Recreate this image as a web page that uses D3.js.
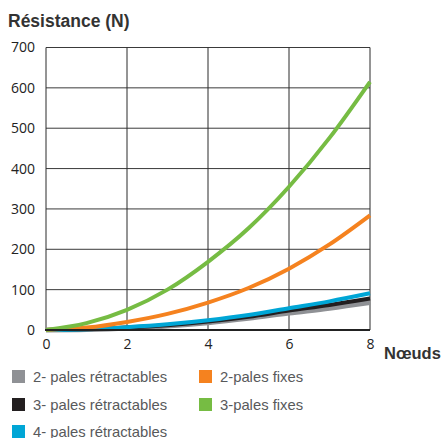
<!DOCTYPE html>
<html>
<head>
<meta charset="utf-8">
<script src="https://cdn.jsdelivr.net/npm/d3@7"></script>
<style>
  body { margin: 0; background: #fff; }
  svg text { font-family: "Liberation Sans", Arial, sans-serif; }
  .tick text { font-family: "Open Sans", sans-serif; font-size: 14px; fill: #222; }
</style>
</head>
<body>
<svg id="chart" width="446" height="438"></svg>
<script>
(() => {
    // knots (x) and resistance values (N)
    const knots = [0, 1, 2, 3, 4, 5, 6, 7, 8];
    const gray2 = [0, 1, 5, 10, 18, 29, 42, 54, 68];
    const black3 = [0, 2, 6, 12, 21, 33, 48, 62, 78];
    const blue4 = [0, 2, 7, 14, 24, 37, 54, 71, 91];
    const orange2 = [0, 6, 20, 40, 68, 104, 152, 212, 284];
    const green3 = [0, 17, 50, 100, 169, 252, 355, 476, 615];

    const xTicks = [0, 2, 4, 6, 8];
    const yTicks = [0, 100, 200, 300, 400, 500, 600, 700];

    const series = [
        {name: "2- pales rétractables", values: gray2, color: "#8f9195", width: 5},
        {name: "3- pales rétractables", values: black3, color: "#231f20", width: 4},
        {name: "4- pales rétractables", values: blue4, color: "#00a6d6", width: 4},
        {name: "2-pales fixes", values: orange2, color: "#f5821f", width: 4},
        {name: "3-pales fixes", values: green3, color: "#76bc43", width: 4},
    ];

    const svg = d3.select("svg#chart");

    const x = d3.scaleLinear().domain([0, 8]).range([46, 370]);
    const y = d3.scaleLinear().domain([0, 700]).range([330, 47.5]);

    // grid
    svg.append("g")
        .selectAll("line")
        .data(yTicks.slice(1))
        .enter().append("line")
        .attr("x1", x(0)).attr("x2", x(8))
        .attr("y1", d => y(d)).attr("y2", d => y(d))
        .style("stroke", "#3a3a3a")
        .style("stroke-width", 1);

    svg.append("g")
        .selectAll("line")
        .data(xTicks)
        .enter().append("line")
        .attr("x1", d => x(d)).attr("x2", d => x(d))
        .attr("y1", y(0)).attr("y2", y(700))
        .style("stroke", "#2a2a2a")
        .style("stroke-width", 1);

    // axes
    svg.append("g")
        .attr("transform", `translate(${x(0)}, 0)`)
        .call(d3.axisLeft(y).tickValues(yTicks).tickSize(0).tickPadding(11))
        .call(g => g.select(".domain").remove());

    svg.append("g")
        .attr("transform", `translate(0, ${y(0)})`)
        .call(d3.axisBottom(x).tickValues(xTicks).tickSize(0).tickPadding(9))
        .call(g => g.select(".domain").remove());

    // lines
    const line = d3.line()
        .x((d, i) => x(knots[i]))
        .y(d => y(d))
        .curve(d3.curveMonotoneX);

    svg.append("g")
        .selectAll("path")
        .data(series)
        .enter().append("path")
        .attr("d", d => line(d.values))
        .style("fill", "none")
        .style("stroke", d => d.color)
        .style("stroke-width", d => d.width);

    // baseline
    svg.append("line")
        .attr("x1", x(0) - 1).attr("x2", x(8))
        .attr("y1", y(0)).attr("y2", y(0))
        .style("stroke", "#222")
        .style("stroke-width", 2);

    // titles
    svg.append("text")
        .attr("x", 8).attr("y", 27)
        .style("font-size", "17.5px")
        .style("font-weight", "bold")
        .style("fill", "#333")
        .text("Résistance (N)");

    svg.append("text")
        .attr("x", 384).attr("y", 359)
        .style("font-size", "16.5px")
        .style("font-weight", "bold")
        .style("fill", "#333")
        .text("Nœuds");

    // legend
    const legendPos = [[12, 370], [12, 398], [12, 425], [199, 370], [199, 398]];
    const legend = svg.append("g")
        .selectAll("g")
        .data(series)
        .enter().append("g")
        .attr("transform", (d, i) => `translate(${legendPos[i][0]}, ${legendPos[i][1]})`);

    legend.append("rect")
        .attr("width", 13).attr("height", 13)
        .style("fill", d => d.color);

    legend.append("text")
        .attr("x", 21).attr("y", 12)
        .style("font-size", "14.8px")
        .style("fill", "#58595b")
        .text(d => d.name);
})();
</script>
</body>
</html>
